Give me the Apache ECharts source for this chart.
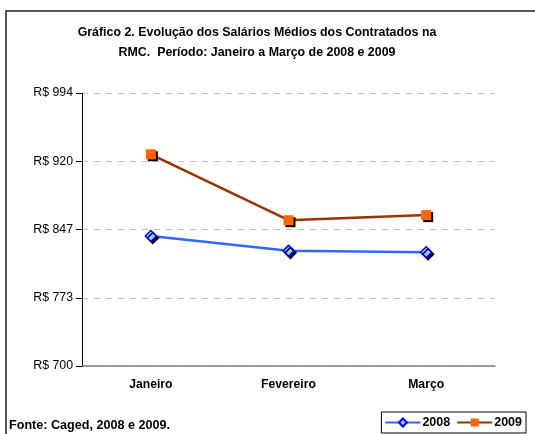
<!DOCTYPE html>
<html><head><meta charset="utf-8">
<script src="https://cdn.jsdelivr.net/npm/echarts@6/dist/echarts.min.js"></script>
<style>html,body{margin:0;padding:0;background:#fff}#c{width:535px;height:434px}</style>
</head><body><div id="c"></div>
<script>
var categories = ["Janeiro", "Fevereiro", "Março"];
var values2008 = [840, 824, 822.5];
var values2009 = [928, 857, 862.5];
var yTickLabels = {"700": "R$ 700", "773.5": "R$ 773", "847": "R$ 847", "920.5": "R$ 920", "994": "R$ 994"};

var chart = echarts.init(document.getElementById('c'), null, {renderer: 'canvas'});
var F = 'Arial, "Liberation Sans", sans-serif';
chart.setOption({
  animation: false,
  backgroundColor: '#fff',
  title: {
    text: 'Gráfico 2. Evolução dos Salários Médios dos Contratados na\nRMC.  Período: Janeiro a Março de 2008 e 2009',
    left: 252, top: 18, textAlign: 'center',
    textStyle: {fontFamily: F, fontSize: 12.4, fontWeight: 'bold', color: '#000', lineHeight: 20}
  },
  graphic: [
    {type: 'rect', shape: {x: 6, y: 11, width: 540, height: 440}, style: {fill: 'none', stroke: '#222', lineWidth: 1.5}, silent: true},
    {type: 'text', left: 9, top: 419, style: {text: 'Fonte: Caged, 2008 e 2009.', font: 'bold 12.6px ' + F, fill: '#000'}}
  ],
  legend: {
    right: 9, bottom: 1,
    orient: 'horizontal',
    itemWidth: 35, itemHeight: 10, itemGap: 6,
    padding: [4, 4, 4, 3],
    borderColor: '#000', borderWidth: 1,
    textStyle: {fontFamily: F, fontSize: 12.5, fontWeight: 'bold', color: '#000', padding: [0, 0, 0, -3]},
    data: ['2008', '2009']
  },
  grid: {left: 82, right: 40, top: 93, bottom: 68},
  xAxis: {
    type: 'category', data: categories, boundaryGap: true,
    axisLine: {lineStyle: {color: '#808080', width: 1.5}},
    axisTick: {show: false},
    axisLabel: {fontFamily: F, fontSize: 12.2, fontWeight: 'bold', color: '#000', margin: 13}
  },
  yAxis: {
    type: 'value', min: 700, max: 994, interval: 73.5,
    axisLine: {show: true, lineStyle: {color: '#000', width: 1}},
    axisTick: {show: true, length: 6, lineStyle: {color: '#000'}},
    axisLabel: {fontFamily: F, fontSize: 12.3, color: '#000', margin: 9,
      formatter: function (v) { return yTickLabels[String(v)] || ('R$ ' + Math.floor(v)); }},
    splitLine: {show: true, lineStyle: {color: '#c0c0c0', type: [6, 6], width: 1}}
  },
  series: [
    {
      name: '2008', type: 'line', data: values2008,
      symbol: 'diamond', symbolSize: 11,
      lineStyle: {color: '#3366ff', width: 2.5},
      itemStyle: {color: '#99ccff', borderColor: '#0000ff', borderWidth: 1.5,
        shadowColor: '#000', shadowBlur: 0, shadowOffsetX: 2, shadowOffsetY: 2},
      z: 2
    },
    {
      name: '2009', type: 'line', data: values2009,
      symbol: 'rect', symbolSize: 10,
      lineStyle: {color: '#993300', width: 2.5},
      itemStyle: {color: '#ff6600', borderColor: '#ff6600', borderWidth: 0,
        shadowColor: '#000', shadowBlur: 0, shadowOffsetX: 2, shadowOffsetY: 2},
      z: 3
    }
  ]
});
</script></body></html>
